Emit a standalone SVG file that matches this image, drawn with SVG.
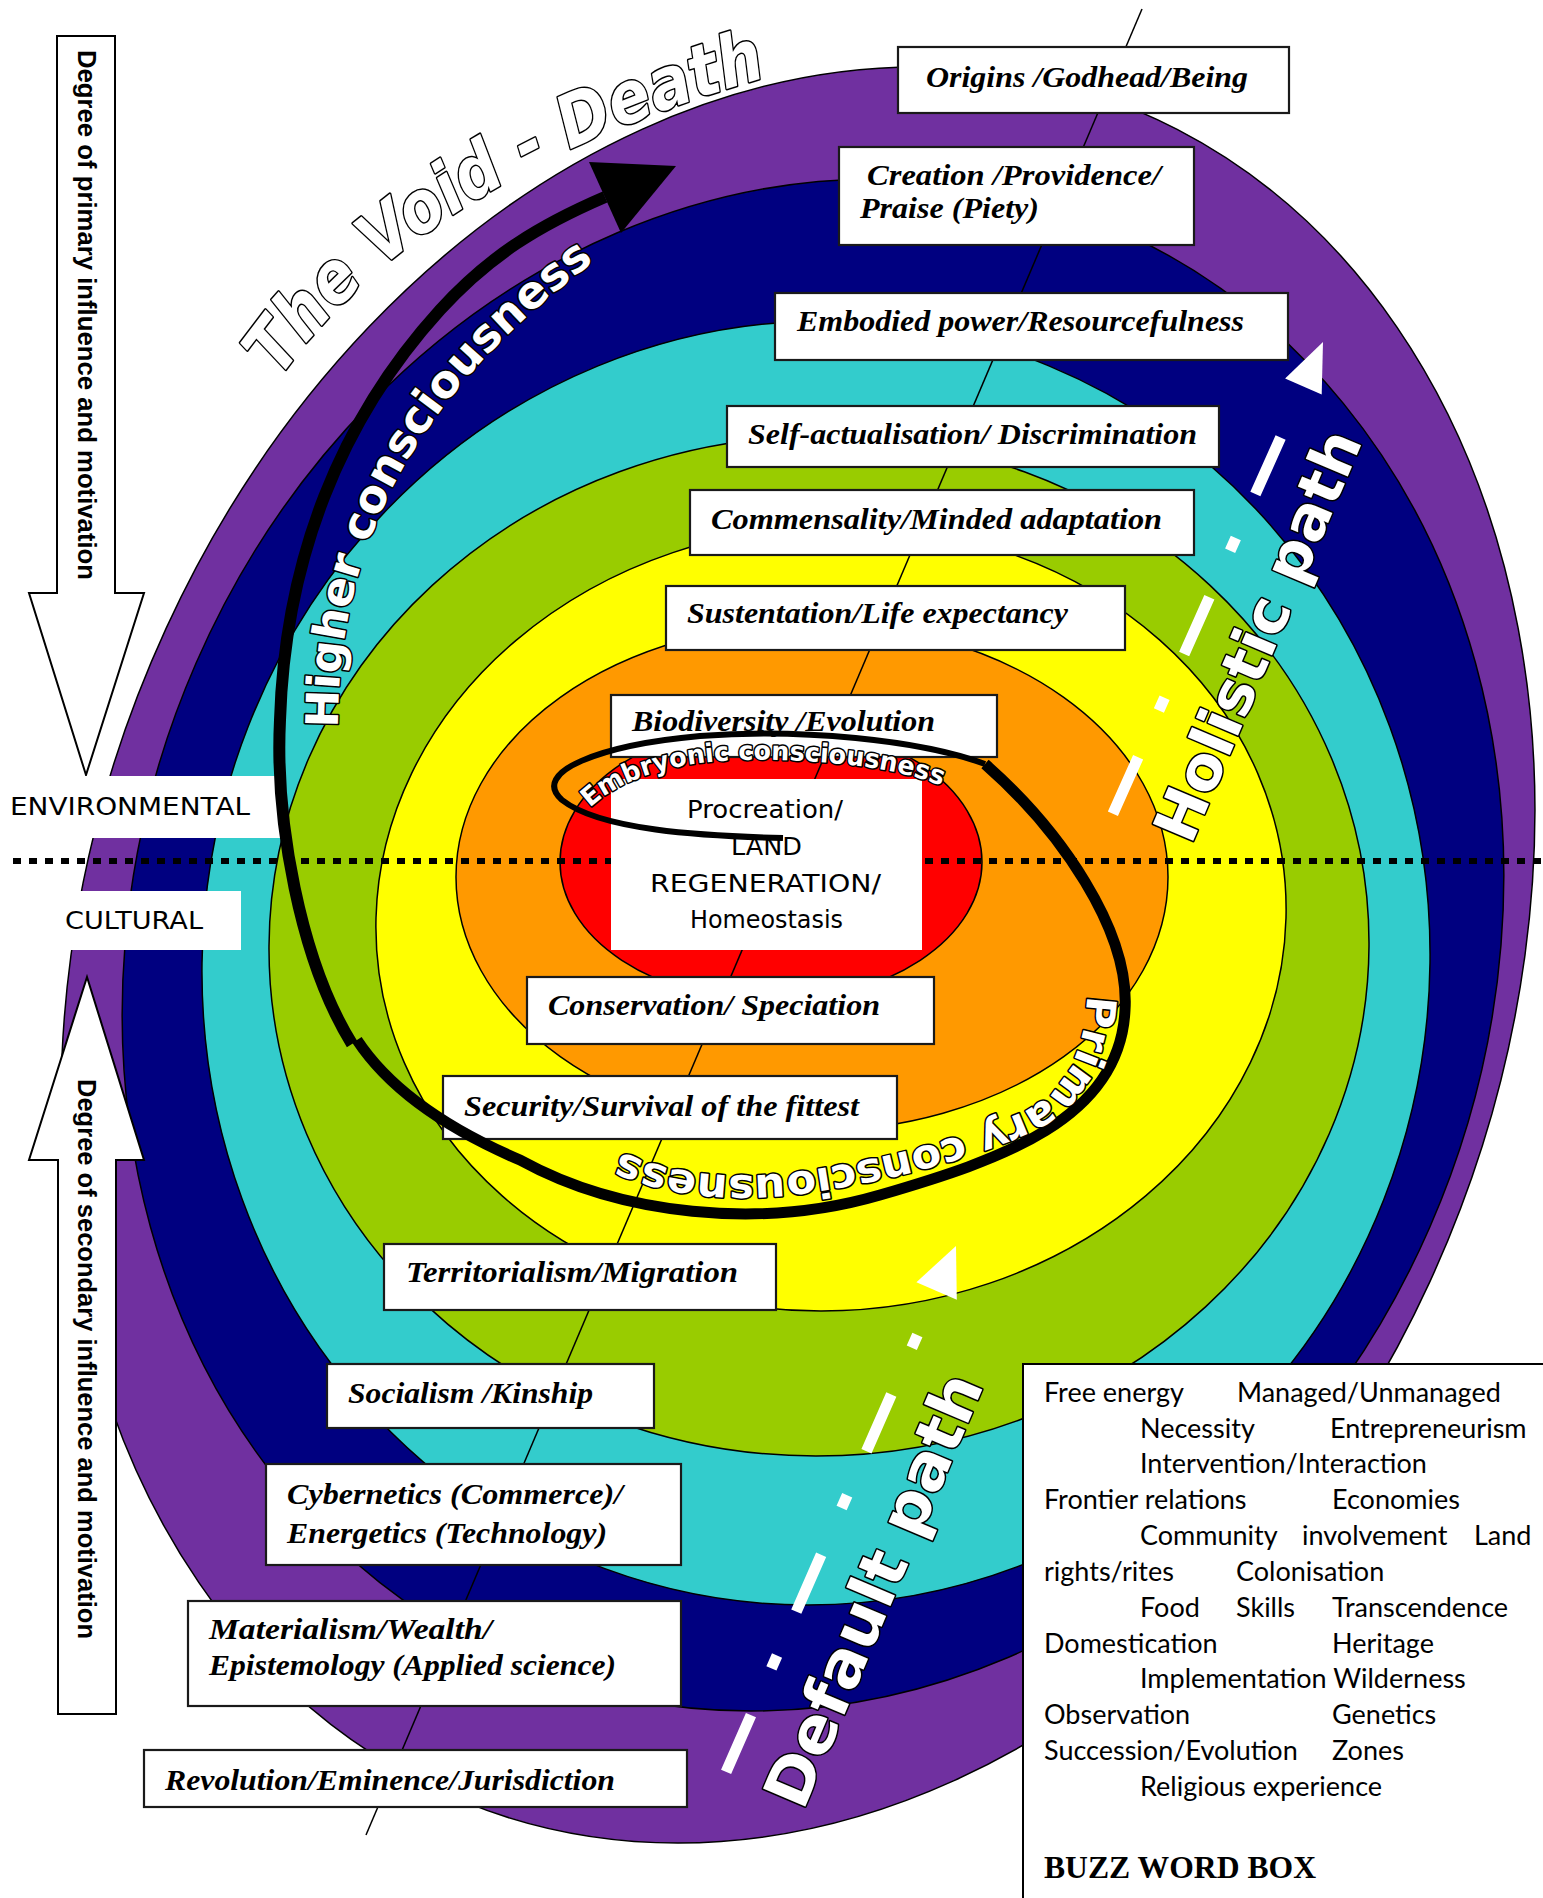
<svg xmlns="http://www.w3.org/2000/svg" width="1543" height="1898" viewBox="0 0 1543 1898">
<defs>
<style>
.band{stroke:#000;stroke-width:1.5px;vector-effect:non-scaling-stroke}
.box{fill:#fff;stroke:#1a1a1a;stroke-width:2.2}
.wbox{fill:#fff;stroke:none}
.lbl{font-family:"Liberation Serif",serif;font-weight:bold;font-style:italic;font-size:29px;fill:#000}
.lbl2{font-family:"Liberation Serif",serif;font-weight:bold;font-style:italic;font-size:30px;fill:#000}
.cmc{font-family:"DejaVu Sans",sans-serif;font-size:25px;fill:#000}
.outl{font-family:"DejaVu Sans",sans-serif;font-weight:bold;fill:#fff;stroke:#000;stroke-width:3px;paint-order:stroke;stroke-linejoin:round}
.buzz{font-family:Lato,"Liberation Sans",sans-serif;font-size:27px;fill:#000}
.deg{font-family:"Liberation Sans",sans-serif;font-weight:bold;font-size:26px;fill:#000}
.dash{stroke:#fff;stroke-width:11;fill:none;stroke-dasharray:62 51 14 48}
.blk{fill:none;stroke:#000;stroke-linejoin:round}
</style>
<path id="pVoid" d="M 264,402 C 332,292 475,158 778,74"/>
<path id="pHigher" d="M 338,728 C 338,560 400,400 610,250"/>
<path id="pPrimary" d="M 1087,985 C 1088,1050 1064,1094 1022,1112 C 962,1138 880,1162 780,1174 C 700,1180 650,1167 600,1142"/>
<path id="pEmbryo" d="M 590,808 C 630,770 700,757 780,760 C 860,763 920,772 962,796"/>
</defs>

<g id="bands">
<circle r="1" class="band" fill="#7030A0" vector-effect="non-scaling-stroke" transform="matrix(727 0 -120 888 798 955)"/>
<circle r="1" class="band" fill="#000080" vector-effect="non-scaling-stroke" transform="matrix(688 0 -62 766 813 945)"/>
<circle r="1" class="band" fill="#33CCCC" vector-effect="non-scaling-stroke" transform="matrix(614 0 -8 642 816 963)"/>
<circle r="1" class="band" fill="#99CC00" vector-effect="non-scaling-stroke" transform="matrix(550 0 -3 510 819 946)"/>
<circle r="1" class="band" fill="#FFFF00" vector-effect="non-scaling-stroke" transform="matrix(455 0 -10 393 831 918)"/>
<circle r="1" class="band" fill="#FF9900" vector-effect="non-scaling-stroke" transform="matrix(356 0 0 254 812 877)"/>
<circle r="1" class="band" fill="#FF0000" vector-effect="non-scaling-stroke" transform="matrix(211 0 0 139 771 862)"/>
</g>

<g id="connectors">
<line x1="1142" y1="9" x2="366" y2="1835" stroke="#000" stroke-width="1.5"/>
</g>

<g id="divider">
<line x1="13" y1="861" x2="1543" y2="861" stroke="#000" stroke-width="6" stroke-dasharray="8 8"/>
</g>

<g id="arrow-primary-influence">
<path d="M57,36 L115,36 L115,593 L144,593 L86,775 L29,593 L57,593 Z" fill="#fff" stroke="#000" stroke-width="2"/>
<text class="deg" transform="translate(78,50) rotate(90)" textLength="530" lengthAdjust="spacingAndGlyphs">Degree of primary influence and motivation</text>
</g>
<g id="arrow-secondary-influence">
<path d="M58,1714 L116,1714 L116,1160 L144,1160 L87,977 L29,1160 L58,1160 Z" fill="#fff" stroke="#000" stroke-width="2"/>
<text class="deg" transform="translate(78,1079) rotate(90)" textLength="560" lengthAdjust="spacingAndGlyphs">Degree of secondary influence and motivation</text>
</g>

<g id="environmental">
<rect class="wbox" x="0" y="776" width="281" height="62"/>
<text class="cmc" x="10" y="815" font-size="27" textLength="240" lengthAdjust="spacingAndGlyphs">ENVIRONMENTAL</text>
</g>
<g id="cultural">
<rect class="wbox" x="60" y="891" width="181" height="59"/>
<text class="cmc" x="65" y="929" font-size="27" textLength="138" lengthAdjust="spacingAndGlyphs">CULTURAL</text>
</g>

<g id="origins"><rect class="box" x="898" y="47" width="391" height="66"/><text class="lbl" x="926" y="87" textLength="322" lengthAdjust="spacingAndGlyphs">Origins /Godhead/Being</text></g>
<g id="creation"><rect class="box" x="839" y="147" width="355" height="98"/><text class="lbl" x="867" y="185" textLength="294" lengthAdjust="spacingAndGlyphs">Creation /Providence/</text><text class="lbl" x="860" y="218" textLength="179" lengthAdjust="spacingAndGlyphs">Praise (Piety)</text></g>
<g id="embodied"><rect class="box" x="775" y="293" width="513" height="67"/><text class="lbl" x="797" y="331" textLength="447" lengthAdjust="spacingAndGlyphs">Embodied power/Resourcefulness</text></g>
<g id="selfact"><rect class="box" x="727" y="406" width="492" height="61"/><text class="lbl" x="748" y="444" textLength="449" lengthAdjust="spacingAndGlyphs">Self-actualisation/ Discrimination</text></g>
<g id="commensality"><rect class="box" x="690" y="490" width="504" height="65"/><text class="lbl" x="711" y="529" textLength="451" lengthAdjust="spacingAndGlyphs">Commensality/Minded adaptation</text></g>
<g id="sustentation"><rect class="box" x="666" y="586" width="459" height="64"/><text class="lbl" x="687" y="623" textLength="381" lengthAdjust="spacingAndGlyphs">Sustentation/Life expectancy</text></g>
<g id="biodiversity"><rect class="box" x="611" y="695" width="386" height="62"/><text class="lbl" x="632" y="731" textLength="303" lengthAdjust="spacingAndGlyphs">Biodiversity /Evolution</text></g>
<g id="conservation"><rect class="box" x="527" y="977" width="407" height="67"/><text class="lbl" x="548" y="1015" textLength="332" lengthAdjust="spacingAndGlyphs">Conservation/ Speciation</text></g>
<g id="security"><rect class="box" x="443" y="1076" width="454" height="63"/><text class="lbl2" x="464" y="1116" textLength="395" lengthAdjust="spacingAndGlyphs">Security/Survival of the fittest</text></g>
<g id="territorialism"><rect class="box" x="384" y="1244" width="392" height="66"/><text class="lbl2" x="406" y="1282" textLength="332" lengthAdjust="spacingAndGlyphs">Territorialism/Migration</text></g>
<g id="socialism"><rect class="box" x="327" y="1364" width="327" height="64"/><text class="lbl2" x="348" y="1403" textLength="245" lengthAdjust="spacingAndGlyphs">Socialism /Kinship</text></g>
<g id="cybernetics"><rect class="box" x="266" y="1464" width="415" height="101"/><text class="lbl2" x="287" y="1504" textLength="336" lengthAdjust="spacingAndGlyphs">Cybernetics (Commerce)/</text><text class="lbl2" x="287" y="1543" textLength="320" lengthAdjust="spacingAndGlyphs">Energetics (Technology)</text></g>
<g id="materialism"><rect class="box" x="188" y="1601" width="493" height="105"/><text class="lbl2" x="209" y="1639" textLength="283" lengthAdjust="spacingAndGlyphs">Materialism/Wealth/</text><text class="lbl2" x="209" y="1675" textLength="407" lengthAdjust="spacingAndGlyphs">Epistemology (Applied science)</text></g>
<g id="revolution"><rect class="box" x="144" y="1750" width="543" height="57"/><text class="lbl2" x="165" y="1790" textLength="450" lengthAdjust="spacingAndGlyphs">Revolution/Eminence/Jurisdiction</text></g>

<g id="procreation">
<rect class="wbox" x="611" y="779" width="311" height="171"/>
<text class="cmc" x="687" y="818" textLength="156" lengthAdjust="spacingAndGlyphs">Procreation/</text>
<text class="cmc" x="731" y="855" textLength="71" lengthAdjust="spacingAndGlyphs">LAND</text>
<text class="cmc" x="650" y="892" textLength="231" lengthAdjust="spacingAndGlyphs">REGENERATION/</text>
<text class="cmc" x="690" y="928" textLength="153" lengthAdjust="spacingAndGlyphs">Homeostasis</text>
</g>

<g id="consciousness-spiral">
<path class="blk" stroke-width="6" d="M 783,838 C 700,836 600,830 562,800 C 530,772 600,745 700,736 C 800,728 920,740 985,764"/>
<path class="blk" stroke-width="11" d="M 985,764 C 1060,830 1130,930 1125,1010 C 1120,1120 1000,1160 880,1195 C 760,1230 620,1215 520,1160 C 450,1130 390,1090 357,1040"/>
<path class="blk" stroke-width="12" d="M 352,1044 C 300,960 275,820 280,720 C 285,560 340,420 440,310 C 490,255 540,225 605,197"/>
<polygon points="589,162 676,166 621,233" fill="#000"/>
<text class="outl" font-size="26"><textPath href="#pEmbryo" textLength="365" lengthAdjust="spacingAndGlyphs">Embryonic consciousness</textPath></text>
<text class="outl" font-size="41"><textPath href="#pPrimary" startOffset="10" textLength="555" lengthAdjust="spacingAndGlyphs">Primary consciousness</textPath></text>
<text class="outl" font-size="45"><textPath href="#pHigher" textLength="555" lengthAdjust="spacingAndGlyphs">Higher consciousness</textPath></text>
</g>

<g id="void-death">
<text class="outl" font-size="72" font-style="italic" stroke-width="3.5"><textPath href="#pVoid" startOffset="28" textLength="585" lengthAdjust="spacingAndGlyphs">The Void - Death</textPath></text>
</g>

<g id="holistic-path">
<path class="dash" d="M 1112.9,813.8 L 1283.8,430.3"/>
<polygon points="1323,342 1321.7,394.6 1285.1,378.4" fill="#fff"/>
<text class="outl" font-size="60" transform="translate(1191,846) rotate(-67)" textLength="440" lengthAdjust="spacingAndGlyphs">Holistic path</text>
</g>

<g id="default-path">
<path class="dash" d="M 726.1,1771.9 L 918.6,1332.2"/>
<polygon points="956,1246 956.8,1299.8 916.4,1282.2" fill="#fff"/>
<text class="outl" font-size="63" transform="translate(803,1812) rotate(-67)" textLength="464" lengthAdjust="spacingAndGlyphs">Default path</text>
</g>

<g id="buzz-word-box">
<rect x="1023" y="1364" width="540" height="560" fill="#fff" stroke="#000" stroke-width="2"/>
<text class="buzz" x="1044" y="1402">Free energy</text><text class="buzz" x="1237" y="1402">Managed/Unmanaged</text>
<text class="buzz" x="1140" y="1438">Necessity</text><text class="buzz" x="1330" y="1438">Entrepreneurism</text>
<text class="buzz" x="1140" y="1473">Intervention/Interaction</text>
<text class="buzz" x="1044" y="1509">Frontier relations</text><text class="buzz" x="1332" y="1509">Economies</text>
<text class="buzz" x="1140" y="1545">Community</text><text class="buzz" x="1302" y="1545">involvement</text><text class="buzz" x="1474" y="1545">Land</text>
<text class="buzz" x="1044" y="1581">rights/rites</text><text class="buzz" x="1236" y="1581">Colonisation</text>
<text class="buzz" x="1140" y="1617">Food</text><text class="buzz" x="1236" y="1617">Skills</text><text class="buzz" x="1332" y="1617">Transcendence</text>
<text class="buzz" x="1044" y="1653">Domestication</text><text class="buzz" x="1332" y="1653">Heritage</text>
<text class="buzz" x="1140" y="1688">Implementation Wilderness</text>
<text class="buzz" x="1044" y="1724">Observation</text><text class="buzz" x="1332" y="1724">Genetics</text>
<text class="buzz" x="1044" y="1760">Succession/Evolution</text><text class="buzz" x="1332" y="1760">Zones</text>
<text class="buzz" x="1140" y="1796">Religious experience</text>
<text x="1044" y="1878" font-family="'Liberation Serif',serif" font-weight="bold" font-size="31" textLength="272" lengthAdjust="spacingAndGlyphs">BUZZ WORD BOX</text>
</g>
</svg>
